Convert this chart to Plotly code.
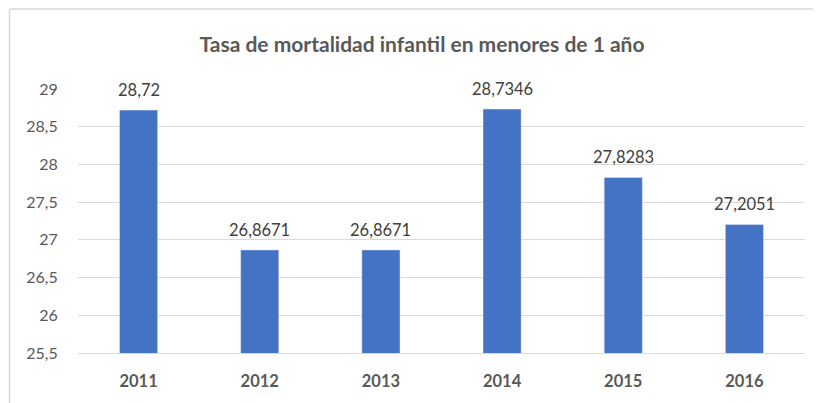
import plotly.graph_objects as go

years = ["2011", "2012", "2013", "2014", "2015", "2016"]
values = [28.72, 26.8671, 26.8671, 28.7346, 27.8283, 27.2051]
labels = ["28,72", "26,8671", "26,8671", "28,7346", "27,8283", "27,2051"]
tick_vals = [25.5, 26, 26.5, 27, 27.5, 28, 28.5, 29]
tick_text = ["25,5", "26", "26,5", "27", "27,5", "28", "28,5", "29"]

FONT = "Lato"
OFF = 8  # browser body margin
W, H = 821 - OFF, 403 - OFF
L, R, T, B = 78 - OFF, 16, 89 - OFF, 48

pos = list(range(len(years)))

fig = go.Figure()
fig.add_trace(go.Bar(
    x=pos, y=values, width=0.315, marker=dict(color="#4472C4"),
    text=labels, textposition="none", hoverinfo="skip",
))

for x, y, t in zip(pos, values, labels):
    fig.add_annotation(x=x, y=y, text=t, showarrow=False, yanchor="bottom",
                       yshift=8, font=dict(family=FONT, size=16.5, color="#404040"))

# outer chart border (left and top edges visible)
pw = W - L - R
ph = H - T - B
bx = (1.5 - L) / pw
by = (H - B - 0.5) / ph
fig.add_shape(type="line", xref="paper", yref="paper",
              x0=bx, x1=bx, y0=-B / ph - 0.1, y1=by,
              line=dict(color="#D9D9D9", width=1.5))
fig.add_shape(type="line", xref="paper", yref="paper",
              x0=bx, x1=1 + R / pw + 0.1, y0=by, y1=by,
              line=dict(color="#D9D9D9", width=1.5))

fig.update_layout(
    width=W, height=H,
    margin=dict(l=L, r=R, t=T, b=B),
    paper_bgcolor="white", plot_bgcolor="white",
    showlegend=False,
    title=dict(text="<b>Tasa de mortalidad infantil en menores de 1 año</b>",
               x=(422 - OFF) / W, xanchor="center",
               y=1 - (45 - OFF) / H, yanchor="middle",
               font=dict(family=FONT, size=21, color="#595959")),
    font=dict(family=FONT, color="#595959"),
)
fig.update_yaxes(range=[25.5, 29], tickvals=tick_vals, ticktext=tick_text,
                 showgrid=True, gridcolor="#D9D9D9", gridwidth=1,
                 zeroline=False, showline=False,
                 ticks="outside", ticklen=16, tickcolor="rgba(0,0,0,0)",
                 tickfont=dict(family=FONT, size=16, color="#595959"))
fig.update_xaxes(range=[-0.5, len(years) - 0.5], tickmode="array", tickvals=pos,
                 ticktext=["<b>%s</b>" % y for y in years],
                 showgrid=False, zeroline=False,
                 showline=True, linecolor="#D9D9D9", linewidth=1,
                 ticks="outside", ticklen=13, tickcolor="rgba(0,0,0,0)",
                 tickfont=dict(family=FONT, size=16.5, color="#595959"))

fig.write_html("out.html")
